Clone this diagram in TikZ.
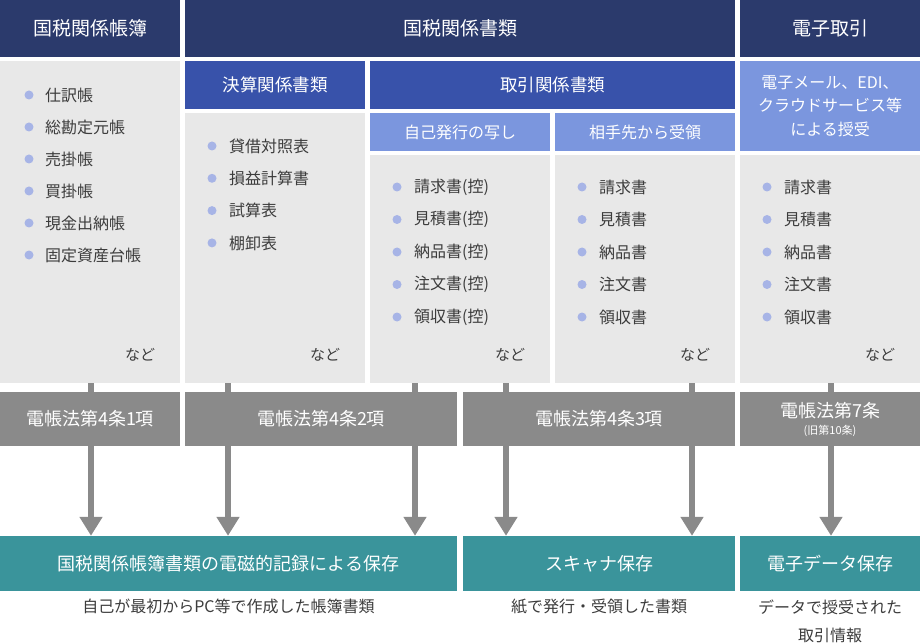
\documentclass[tikz,border=0pt]{standalone}
\usepackage{fontspec}
\setmainfont{Noto Sans CJK JP}
\usetikzlibrary{arrows.meta}
\definecolor{navyhead}{HTML}{2B3A6C}
\definecolor{bluesub}{HTML}{3852AA}
\definecolor{bluelight}{HTML}{7B96DE}
\definecolor{panelgray}{HTML}{E8E8E8}
\definecolor{lawgray}{HTML}{8A8A8A}
\definecolor{tealsave}{HTML}{3A949B}
\definecolor{dotblue}{HTML}{A7B4E6}
\definecolor{itemtext}{HTML}{3C3C3C}

\begin{document}
\begin{tikzpicture}[x=1pt,y=1pt,yscale=-1,xscale=1,
  box/.style={inner sep=0pt,align=center,text=white},
  head/.style={box,fill=navyhead,font=\fontsize{19}{22}\selectfont},
  sub/.style={box,fill=bluesub,font=\fontsize{17.5}{21}\selectfont},
  src/.style={box,fill=bluelight,font=\fontsize{16}{23.5}\selectfont},
  panel/.style={box,fill=panelgray},
  law/.style={box,fill=lawgray,font=\fontsize{18}{20}\selectfont},
  save/.style={box,fill=tealsave,font=\fontsize{18}{21}\selectfont},
  item/.style={inner sep=0pt,anchor=west,text=itemtext,font=\fontsize{16}{19}\selectfont},
  etc/.style={inner sep=0pt,text=itemtext,font=\fontsize{15}{18}\selectfont},
  note/.style={inner sep=0pt,anchor=north,align=center,text=itemtext,font=\fontsize{16}{28}\selectfont},
  dot/.style={fill=dotblue},
  flow/.style={draw=lawgray,line width=6pt,-{Triangle[width=22pt,length=19pt]}}
]
\useasboundingbox (0,0) rectangle (920,644);
%Shape: Rectangle [header row]
\node[head,minimum width=180,minimum height=57] (hdA) at (90,28.5) {国税関係帳簿};
\node[head,minimum width=550,minimum height=57] (hdB) at (460,28.5) {国税関係書類};
\node[head,minimum width=180,minimum height=57] (hdC) at (830,28.5) {電子取引};
%Shape: Rectangle [second row]
\node[sub,minimum width=180,minimum height=48] (subB) at (275,85) {決算関係書類};
\node[sub,minimum width=365,minimum height=48] (subC) at (552.5,85) {取引関係書類};
\node[src,minimum width=180,minimum height=38] (srcC) at (460,132) {自己発行の写し};
\node[src,minimum width=180,minimum height=38] (srcD) at (645,132) {相手先から受領};
\node[src,minimum width=180,minimum height=90] (srcE) at (830,106) {電子メール、EDI、\\クラウドサービス等\\による授受};
%Shape: Rectangle [gray panels]
\node[panel,minimum width=180,minimum height=322] (gA) at (90,222) {};
\node[panel,minimum width=180,minimum height=270] (gB) at (275,248) {};
\node[panel,minimum width=180,minimum height=228] (gC) at (460,269) {};
\node[panel,minimum width=180,minimum height=228] (gD) at (645,269) {};
\node[panel,minimum width=180,minimum height=228] (gE) at (830,269) {};
%Items
\foreach \t [count=\i] in {仕訳帳,総勘定元帳,売掛帳,買掛帳,現金出納帳,固定資産台帳}{
  \fill[dot] (29,63+32*\i) circle (4.5);
  \node[item] (a\i) at (45,63+32*\i) {\t};
}
\foreach \t [count=\i] in {貸借対照表,損益計算書,試算表,棚卸表}{
  \fill[dot] (212,113.7+32.3*\i) circle (4.5);
  \node[item] (b\i) at (229,113.7+32.3*\i) {\t};
}
\foreach \t [count=\i] in {請求書(控),見積書(控),納品書(控),注文書(控),領収書(控)}{
  \fill[dot] (397,154.5+32.5*\i) circle (4.5);
  \node[item] (c\i) at (414,154.5+32.5*\i) {\t};
}
\foreach \t [count=\i] in {請求書,見積書,納品書,注文書,領収書}{
  \fill[dot] (582,154.5+32.5*\i) circle (4.5);
  \node[item] (d\i) at (599,154.5+32.5*\i) {\t};
  \fill[dot] (767,154.5+32.5*\i) circle (4.5);
  \node[item] (e\i) at (784,154.5+32.5*\i) {\t};
}
% yscale=-1 flips yshift, so negative is up
\foreach \g in {gA,gB,gC,gD,gE}
  \node[etc] (etc\g) at ([xshift=-40pt,yshift=-28pt]\g.south east) {など};
%Shape: Rectangle [storage row]
\node[save,minimum width=457,minimum height=55] (svA) at (228.5,563.5) {国税関係帳簿書類の電磁的記録による保存};
\node[save,minimum width=272,minimum height=55] (svB) at (599,563.5) {スキャナ保存};
\node[save,minimum width=180,minimum height=55] (svC) at (830,563.5) {電子データ保存};
%Arrows
\draw[flow] ([xshift=1pt]gA.south) -- ([xshift=1pt]gA.south |- svA.north);
\draw[flow] ([xshift=-47pt]gB.south) -- ([xshift=-47pt]gB.south |- svA.north);
\draw[flow] ([xshift=-45pt]gC.south) -- ([xshift=-45pt]gC.south |- svA.north);
\draw[flow] ([xshift=46pt]gC.south) -- ([xshift=46pt]gC.south |- svB.north);
\draw[flow] ([xshift=47pt]gD.south) -- ([xshift=47pt]gD.south |- svB.north);
\draw[flow] ([xshift=1pt]gE.south) -- ([xshift=1pt]gE.south |- svC.north);
%Shape: Rectangle [law row]
\node[law,minimum width=180,minimum height=54] (lawA) at (90,419) {電帳法第4条1項};
\node[law,minimum width=272,minimum height=54] (lawB) at (321,419) {電帳法第4条2項};
\node[law,minimum width=272,minimum height=54] (lawC) at (599,419) {電帳法第4条3項};
\node[law,minimum width=180,minimum height=54] (lawD) at (830,419) {電帳法第7条\\[-3pt]{\fontsize{11}{12}\selectfont (旧第10条)}};
%Notes
\node[note] (ntA) at ([yshift=8pt]svA.south) {自己が最初からPC等で作成した帳簿書類};
\node[note] (ntB) at ([yshift=8pt]svB.south) {紙で発行・受領した書類};
\node[note] (ntC) at ([yshift=8pt]svC.south) {データで授受された\\取引情報};
\end{tikzpicture}
\end{document}
